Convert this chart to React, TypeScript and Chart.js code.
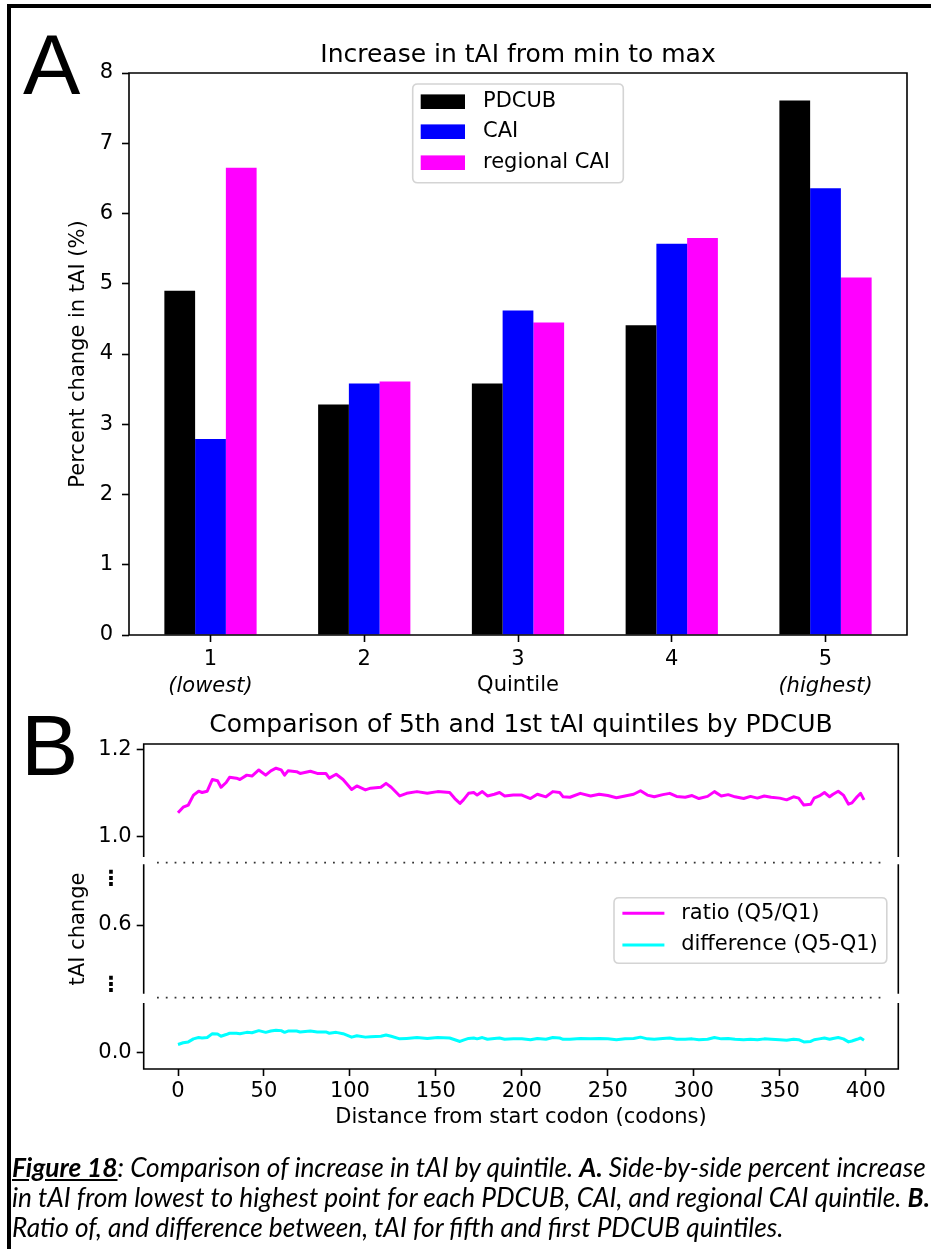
import React, { useEffect, useRef } from "react";
import { Chart, registerables } from "chart.js";

Chart.register(...registerables);

const FONT = "'DejaVu Sans', 'Liberation Sans', sans-serif";
const TICK_SIZE = 21;

// ---------- Panel A data ----------
const quintiles = [1, 2, 3, 4, 5];
const quintileTickLabels = ["1", "2", "3", "4", "5"];
const extremeQuintiles = [1, 5];
const extremeLabels = ["(lowest)", "(highest)"];
const pdcubIncrease = [4.9, 3.28, 3.58, 4.41, 7.61];
const caiIncrease = [2.79, 3.58, 4.62, 5.57, 6.36];
const regionalCaiIncrease = [6.65, 3.61, 4.45, 5.65, 5.09];
const percentTicks = [0, 1, 2, 3, 4, 5, 6, 7, 8];

// ---------- Panel B data ----------
const codonPositions = [
  0, 3, 6, 9, 12, 14, 17, 20, 23, 25,
  28, 30, 34, 36, 40, 43, 47, 51, 54, 57,
  60, 62, 64, 69, 71, 77, 81, 86, 88, 92,
  96, 101, 104, 109, 112, 118, 121, 124, 129, 133,
  139, 145, 151, 158, 161, 164, 166, 169, 172, 174,
  177, 180, 184, 187, 190, 195, 200, 205, 209, 214,
  218, 222, 224, 228, 234, 240, 245, 250, 255, 260,
  265, 269, 273, 277, 282, 286, 290, 295, 299, 303,
  308, 312, 316, 320, 324, 329, 333, 337, 341, 345,
  350, 354, 358, 361, 364, 368, 370, 373, 376, 379,
  381, 384, 387, 390, 392, 395, 397, 399,
];
const ratioQ5Q1 = [
  1.055, 1.068, 1.073, 1.096, 1.105, 1.102, 1.105, 1.132, 1.129, 1.114,
  1.125, 1.137, 1.135, 1.132, 1.142, 1.14, 1.154, 1.142, 1.152, 1.158,
  1.154, 1.142, 1.152, 1.15, 1.146, 1.151, 1.146, 1.146, 1.135, 1.144,
  1.132, 1.109, 1.117, 1.108, 1.112, 1.114, 1.123, 1.114, 1.094, 1.1,
  1.104, 1.1, 1.104, 1.102, 1.088, 1.077, 1.085, 1.1, 1.102, 1.096,
  1.104, 1.094, 1.098, 1.102, 1.094, 1.096, 1.096, 1.088, 1.098, 1.092,
  1.104, 1.102, 1.092, 1.091, 1.1, 1.094, 1.098, 1.095, 1.09, 1.094,
  1.098, 1.106, 1.096, 1.092, 1.097, 1.1, 1.093, 1.091, 1.095, 1.088,
  1.093, 1.104, 1.094, 1.097, 1.092, 1.088, 1.093, 1.089, 1.094, 1.091,
  1.089, 1.085, 1.092, 1.089, 1.073, 1.075, 1.089, 1.094, 1.102, 1.092,
  1.098, 1.105, 1.096, 1.075, 1.078, 1.092, 1.1, 1.085,
];
const differenceQ5Q1 = [
  0.018, 0.022, 0.024, 0.031, 0.034, 0.033, 0.034, 0.043, 0.042, 0.037,
  0.041, 0.044, 0.044, 0.043, 0.046, 0.045, 0.05, 0.046, 0.049, 0.051,
  0.05, 0.046, 0.049, 0.049, 0.047, 0.049, 0.047, 0.047, 0.044, 0.046,
  0.043, 0.035, 0.038, 0.035, 0.036, 0.037, 0.04, 0.037, 0.031, 0.032,
  0.034, 0.032, 0.034, 0.033, 0.029, 0.025, 0.028, 0.032, 0.033, 0.031,
  0.034, 0.03, 0.032, 0.033, 0.03, 0.031, 0.031, 0.029, 0.032, 0.03,
  0.034, 0.033, 0.03, 0.03, 0.032, 0.031, 0.032, 0.031, 0.029, 0.031,
  0.032, 0.035, 0.031, 0.03, 0.032, 0.033, 0.03, 0.03, 0.031, 0.029,
  0.03, 0.034, 0.031, 0.032, 0.03, 0.029, 0.03, 0.029, 0.031, 0.03,
  0.029, 0.028, 0.03, 0.029, 0.024, 0.025, 0.029, 0.031, 0.033, 0.03,
  0.032, 0.034, 0.031, 0.024, 0.026, 0.03, 0.033, 0.028,
];
const distanceTicks = [0, 50, 100, 150, 200, 250, 300, 350, 400];
const upperTicks = [1.0, 1.2];
const middleTicks = [0.706, 0.6, 0.461];
const middleTickLabels = ["\u22EE\u2002", "0.6", "\u22EE\u2002"];
const lowerTicks = [0.0];

const tickFont = { family: FONT, size: TICK_SIZE };

function spinePlugin(sides: { top?: boolean; right?: boolean; bottom?: boolean; left?: boolean }) {
  return {
    id: "spines",
    afterDatasetsDraw(chart: any) {
      const { ctx, chartArea: a } = chart;
      ctx.save();
      ctx.strokeStyle = "#000";
      ctx.lineWidth = 1.6;
      ctx.lineCap = "square";
      ctx.beginPath();
      if (sides.top) { ctx.moveTo(a.left, a.top); ctx.lineTo(a.right, a.top); }
      if (sides.bottom) { ctx.moveTo(a.left, a.bottom); ctx.lineTo(a.right, a.bottom); }
      if (sides.left) { ctx.moveTo(a.left, a.top); ctx.lineTo(a.left, a.bottom); }
      if (sides.right) { ctx.moveTo(a.right, a.top); ctx.lineTo(a.right, a.bottom); }
      ctx.stroke();
      ctx.restore();
    },
  };
}

function roundRect(ctx: CanvasRenderingContext2D, x: number, y: number, w: number, h: number, r: number) {
  ctx.beginPath();
  ctx.moveTo(x + r, y);
  ctx.lineTo(x + w - r, y);
  ctx.quadraticCurveTo(x + w, y, x + w, y + r);
  ctx.lineTo(x + w, y + h - r);
  ctx.quadraticCurveTo(x + w, y + h, x + w - r, y + h);
  ctx.lineTo(x + r, y + h);
  ctx.quadraticCurveTo(x, y + h, x, y + h - r);
  ctx.lineTo(x, y + r);
  ctx.quadraticCurveTo(x, y, x + r, y);
  ctx.closePath();
}

const legendAPlugin = {
  id: "legendA",
  afterDraw(chart: any) {
    const { ctx, chartArea: a } = chart;
    const bx = a.left + 283.7;
    const by = a.top + 11;
    ctx.save();
    roundRect(ctx, bx, by, 210.6, 98.7, 5);
    ctx.fillStyle = "rgba(255,255,255,0.85)";
    ctx.fill();
    ctx.strokeStyle = "#d4d4d4";
    ctx.lineWidth = 1.6;
    ctx.stroke();
    const rows = [17.7, 47.7, 78.7];
    chart.data.datasets.forEach((ds: any, i: number) => {
      const cy = by + rows[i];
      ctx.fillStyle = ds.backgroundColor;
      ctx.fillRect(bx + 8, cy - 7.3, 44.3, 14.6);
      ctx.fillStyle = "#000";
      ctx.font = `${TICK_SIZE}px ${FONT}`;
      ctx.textBaseline = "middle";
      ctx.textAlign = "left";
      ctx.fillText(ds.label, bx + 70.3, cy);
    });
    ctx.restore();
  },
};

const extremeLabelPlugin = {
  id: "extremeLabels",
  afterDraw(chart: any) {
    const { ctx, chartArea: a } = chart;
    const xs = chart.scales.x;
    ctx.save();
    ctx.font = `italic ${TICK_SIZE}px ${FONT}`;
    ctx.fillStyle = "#000";
    ctx.textAlign = "center";
    ctx.textBaseline = "alphabetic";
    extremeQuintiles.forEach((q, i) => {
      ctx.fillText(extremeLabels[i], xs.getPixelForValue(q), a.bottom + 56.5);
    });
    ctx.restore();
  },
};

const legendBPlugin = {
  id: "legendB",
  afterDraw(chart: any) {
    const { ctx, chartArea: a } = chart;
    const bx = a.left + 470.3;
    const by = a.top + 32.7;
    ctx.save();
    roundRect(ctx, bx, by, 272.8, 65.6, 5);
    ctx.fillStyle = "rgba(255,255,255,0.85)";
    ctx.fill();
    ctx.strokeStyle = "#d4d4d4";
    ctx.lineWidth = 1.6;
    ctx.stroke();
    const rows = [15.6, 47.3];
    chart.data.datasets.forEach((ds: any, i: number) => {
      const cy = by + rows[i];
      ctx.strokeStyle = ds.borderColor;
      ctx.lineWidth = 3;
      ctx.beginPath();
      ctx.moveTo(bx + 8.4, cy);
      ctx.lineTo(bx + 50.4, cy);
      ctx.stroke();
      ctx.fillStyle = "#000";
      ctx.font = `${TICK_SIZE}px ${FONT}`;
      ctx.textBaseline = "middle";
      ctx.textAlign = "left";
      ctx.fillText(ds.label, bx + 67.2, cy);
    });
    ctx.restore();
  },
};

const breakDotsPlugin = {
  id: "breakDots",
  afterDraw(chart: any) {
    const { ctx, chartArea: a } = chart;
    ctx.save();
    ctx.strokeStyle = "#333";
    ctx.lineWidth = 1.8;
    ctx.setLineDash([1.8, 7]);
    [a.top - 2.3, a.bottom + 4.7].forEach((y) => {
      ctx.beginPath();
      ctx.moveTo(a.left + 13.3, y);
      ctx.lineTo(a.right - 11.3, y);
      ctx.stroke();
    });
    ctx.restore();
  },
};

const noEdgePadding = (s: any) => {
  s.paddingTop = 0;
  s.paddingBottom = 0;
  s.paddingLeft = 0;
  s.paddingRight = 0;
};

function barConfig(): any {
  const makeData = (vals: number[]) => quintiles.map((q, i) => ({ x: q, y: vals[i] }));
  return {
    type: "bar",
    data: {
      datasets: [
        { label: "PDCUB", data: makeData(pdcubIncrease), backgroundColor: "#000000", borderWidth: 0 },
        { label: "CAI", data: makeData(caiIncrease), backgroundColor: "#0000ff", borderWidth: 0 },
        { label: "regional CAI", data: makeData(regionalCaiIncrease), backgroundColor: "#ff00ff", borderWidth: 0 },
      ],
    },
    options: {
      responsive: false,
      animation: false,
      devicePixelRatio: 1,
      datasets: { bar: { categoryPercentage: 0.6, barPercentage: 1.0 } },
      layout: { padding: { left: 0, right: 24, top: 73, bottom: 0 } },
      plugins: { legend: { display: false }, tooltip: { enabled: false }, title: { display: false } },
      scales: {
        x: {
          type: "linear",
          min: 0.47,
          max: 5.53,
          offset: false,
          afterBuildTicks: (s: any) => { s.ticks = quintiles.map((v) => ({ value: v })); },
          afterFit: (s: any) => { s.height = 85; noEdgePadding(s); },
          ticks: {
            autoSkip: false, maxRotation: 0, padding: 5, color: "#000", font: tickFont,
            callback: (v: number) => quintileTickLabels[quintiles.indexOf(v)] ?? "",
          },
          grid: { display: true, drawOnChartArea: false, drawTicks: true, tickLength: 7, tickWidth: 1.6, tickColor: "#000", offset: false },
          border: { display: false },
          title: { display: true, text: "Quintile", color: "#000", font: tickFont, padding: { top: 0, bottom: 21.7 } },
        },
        y: {
          min: 0,
          max: 8,
          afterBuildTicks: (s: any) => { s.ticks = percentTicks.map((v) => ({ value: v })); },
          afterFit: (s: any) => { s.width = 129; noEdgePadding(s); },
          ticks: { autoSkip: false, padding: 9, color: "#000", font: tickFont, callback: (v: number) => String(v) },
          grid: { display: true, drawOnChartArea: false, drawTicks: true, tickLength: 7, tickWidth: 1.6, tickColor: "#000" },
          border: { display: false },
          title: { display: true, text: "Percent change in tAI (%)", color: "#000", font: tickFont, padding: { top: 66.4, bottom: 0 } },
        },
      },
    },
    plugins: [spinePlugin({ top: true, right: true, bottom: true, left: true }), legendAPlugin, extremeLabelPlugin],
  };
}

type Part = "top" | "mid" | "bot";

function lineConfig(part: Part): any {
  const ratioData = codonPositions.map((x, i) => ({ x, y: ratioQ5Q1[i] }));
  const diffData = codonPositions.map((x, i) => ({ x, y: differenceQ5Q1[i] }));
  const yRange = part === "top" ? [0.95317, 1.21384] : part === "mid" ? [0.44314, 0.73841] : [-0.03852, 0.11373];
  const padding =
    part === "top" ? { left: 0, right: 32.7, top: 44, bottom: 0 }
    : part === "mid" ? { left: 0, right: 32.7, top: 8, bottom: 10 }
    : { left: 0, right: 32.7, top: 0, bottom: 0 };
  const yTicks = part === "top" ? upperTicks : part === "mid" ? middleTicks : lowerTicks;
  const isDots = (v: number) => part === "mid" && middleTickLabels[middleTicks.indexOf(v)] !== "0.6";
  const plugins: any[] = [];
  if (part === "top") plugins.push(spinePlugin({ top: true, left: true, right: true }));
  if (part === "mid") plugins.push(spinePlugin({ left: true, right: true }), breakDotsPlugin, legendBPlugin);
  if (part === "bot") plugins.push(spinePlugin({ left: true, right: true, bottom: true }));
  return {
    type: "line",
    data: {
      datasets: [
        { label: "ratio (Q5/Q1)", data: ratioData, borderColor: "#ff00ff", backgroundColor: "#ff00ff", borderWidth: 3, pointRadius: 0, tension: 0, borderJoinStyle: "round", fill: false },
        { label: "difference (Q5-Q1)", data: diffData, borderColor: "#00ffff", backgroundColor: "#00ffff", borderWidth: 3, pointRadius: 0, tension: 0, borderJoinStyle: "round", fill: false },
      ],
    },
    options: {
      responsive: false,
      animation: false,
      devicePixelRatio: 1,
      layout: { padding },
      plugins: { legend: { display: false }, tooltip: { enabled: false }, title: { display: false } },
      scales: {
        x: {
          type: "linear",
          min: -19.95,
          max: 418.95,
          display: part === "bot",
          afterBuildTicks: (s: any) => { s.ticks = distanceTicks.map((v) => ({ value: v })); },
          afterFit: (s: any) => { if (part === "bot") s.height = 74; noEdgePadding(s); },
          ticks: { autoSkip: false, maxRotation: 0, padding: 3, color: "#000", font: tickFont, callback: (v: number) => String(v) },
          grid: { display: true, drawOnChartArea: false, drawTicks: true, tickLength: 7, tickWidth: 1.6, tickColor: "#000" },
          border: { display: false },
          title: { display: true, text: "Distance from start codon (codons)", color: "#000", font: tickFont, padding: { top: 0, bottom: 12.7 } },
        },
        y: {
          type: "linear",
          min: yRange[0],
          max: yRange[1],
          afterBuildTicks: (s: any) => { s.ticks = yTicks.map((v) => ({ value: v })); },
          afterFit: (s: any) => { s.width = 143.7; noEdgePadding(s); },
          ticks: {
            autoSkip: false,
            padding: 5,
            color: "#000",
            font: (c: any) => ({ family: FONT, size: TICK_SIZE, weight: c.tick && isDots(c.tick.value) ? "bold" : "normal" }),
            callback: (v: number) => (part === "mid" ? middleTickLabels[middleTicks.indexOf(v)] : Number(v).toFixed(1)),
          },
          grid: {
            display: true, drawOnChartArea: false, drawTicks: true, tickLength: 7, tickWidth: 1.6,
            tickColor: (c: any) => (c.tick && isDots(c.tick.value) ? "rgba(0,0,0,0)" : "#000"),
          },
          border: { display: false },
          title: { display: part === "mid", text: "tAI change", color: "#000", font: tickFont, padding: { top: 66.4, bottom: 0 } },
        },
      },
    },
    plugins,
  };
}

export default function App() {
  const aRef = useRef<HTMLCanvasElement>(null);
  const bTopRef = useRef<HTMLCanvasElement>(null);
  const bMidRef = useRef<HTMLCanvasElement>(null);
  const bBotRef = useRef<HTMLCanvasElement>(null);
  const captionRef = useRef<HTMLDivElement>(null);
  const line1Ref = useRef<HTMLSpanElement>(null);

  useEffect(() => {
    const charts: Chart[] = [];
    charts.push(new Chart(aRef.current!, barConfig()));
    charts.push(new Chart(bTopRef.current!, lineConfig("top")));
    charts.push(new Chart(bMidRef.current!, lineConfig("mid")));
    charts.push(new Chart(bBotRef.current!, lineConfig("bot")));
    if (captionRef.current && line1Ref.current) {
      const w = line1Ref.current.getBoundingClientRect().width;
      if (w > 0) captionRef.current.style.fontSize = `${(22 * 914) / w}px`;
    }
    return () => charts.forEach((c) => c.destroy());
  }, []);

  const canvasStyle = (top: number, h: number): React.CSSProperties => ({
    position: "absolute", left: 0, top, width: 931, height: h, display: "block",
  });

  return (
    <div style={{ position: "absolute", left: 0, top: 0, width: 931, height: 1249, background: "#fff", overflow: "hidden" }}>
      <canvas ref={aRef} width={931} height={720} style={canvasStyle(0, 720)} />
      <canvas ref={bTopRef} width={931} height={157} style={canvasStyle(700, 157)} />
      <canvas ref={bMidRef} width={931} height={146} style={canvasStyle(857, 146)} />
      <canvas ref={bBotRef} width={931} height={140} style={canvasStyle(1003, 140)} />

      <div style={{ position: "absolute", left: 7, top: 4, width: 940, height: 1260, borderTop: "4.5px solid #000", borderLeft: "4.5px solid #000", boxSizing: "border-box" }} />

      <div style={{ position: "absolute", left: 23, top: 20.5, fontFamily: "'Liberation Sans', Arial, sans-serif", fontSize: 86, lineHeight: "86px", color: "#000" }}>A</div>
      <div style={{ position: "absolute", left: 21, top: 701.8, fontFamily: "'Liberation Sans', Arial, sans-serif", fontSize: 86, lineHeight: "86px", color: "#000" }}>B</div>

      <div style={{ position: "absolute", left: 118, width: 800, top: 40.5, textAlign: "center", fontFamily: FONT, fontSize: 25, lineHeight: "25px", color: "#000", whiteSpace: "nowrap" }}>
        Increase in tAI from min to max
      </div>
      <div style={{ position: "absolute", left: 121, width: 800, top: 710.5, textAlign: "center", fontFamily: FONT, fontSize: 25, lineHeight: "25px", color: "#000", whiteSpace: "nowrap" }}>
        Comparison of 5th and 1st tAI quintiles by PDCUB
      </div>

      <div
        ref={captionRef}
        style={{ position: "absolute", left: 12, top: 1151.5, fontFamily: "Lato, 'Liberation Sans', sans-serif", fontStyle: "italic", fontSize: 22, lineHeight: "30px", color: "#000", whiteSpace: "nowrap" }}
      >
        <span ref={line1Ref}>
          <b><u>Figure 18</u></b>: Comparison of increase in tAI by quintile. <b>A.</b> Side-by-side percent increase
        </span>
        <br />
        in tAI from lowest to highest point for each PDCUB, CAI, and regional CAI quintile. <b>B.</b>
        <br />
        Ratio of, and difference between, tAI for fifth and first PDCUB quintiles.
      </div>
    </div>
  );
}
